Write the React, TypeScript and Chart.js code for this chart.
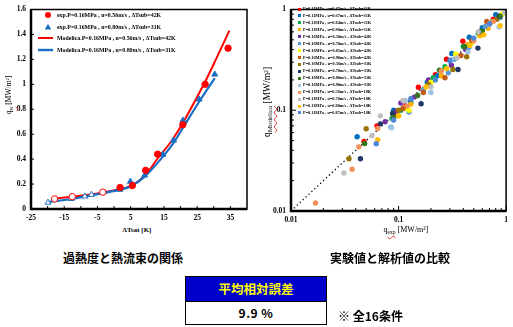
import React, { useEffect, useRef } from "react";
import { Chart, registerables } from "chart.js";
Chart.register(...registerables);

// ---------- Left chart data ----------
const xTicksLeft = [-25, -15, -5, 5, 15, 25, 35];
const yTicksLeft = [0, 0.2, 0.4, 0.6, 0.8, 1, 1.2, 1.4, 1.6];
const xMinorLeft = [-20, -15, -10, -5, 0, 5, 10, 15, 20, 25, 30, 35];

const expRedX = [-17.9, -12.6, -3.4, 1.8, 5.5, 9.5, 13.1, 20.7, 27.4, 34.3];
const expRedY = [0.081, 0.099, 0.135, 0.172, 0.188, 0.31, 0.44, 0.676, 1.0, 1.29];
const expBlueX = [-19.9, -12.9, -8.8, -6.8, 1.8, 4.9, 9.2, 14.7, 17.9, 20.7, 25.6, 30.3];
const expBlueY = [0.052, 0.082, 0.102, 0.115, 0.156, 0.22, 0.27, 0.437, 0.55, 0.71, 0.88, 1.08];
const modRedX = [-17.9, -12.6, -7, -3.4, 1.8, 5.5, 9.5, 13.1, 17, 20.7, 24, 27.4, 31, 34.7];
const modRedY = [0.082, 0.099, 0.117, 0.133, 0.16, 0.19, 0.275, 0.405, 0.535, 0.69, 0.85, 1.02, 1.22, 1.43];
const modBlueX = [-19.9, -12.9, -8.8, -6.8, 1.8, 4.9, 9.2, 14.7, 17.9, 20.7, 25.6, 30.3];
const modBlueY = [0.056, 0.08, 0.1, 0.11, 0.155, 0.18, 0.26, 0.42, 0.53, 0.65, 0.86, 1.05];

const leftLabels = [
  "exp.P=0.16MPa , u=0.56m/s , \u0394Tsub=42K",
  "exp.P=0.16MPa , u=0.80m/s , \u0394Tsub=31K",
  "Modelica.P=0.16MPa , u=0.56m/s , \u0394Tsub=42K",
  "Modelica.P=0.16MPa , u=0.80m/s , \u0394Tsub=31K",
];
const RED = "#FF0000";
const BLUE = "#1A6FC4";

// ---------- Right chart data ----------
const logTicks = [0.01, 0.1, 1];
const s01 = [[0.0477, 0.049], [0.063, 0.07], [0.09, 0.091], [0.117, 0.11], [0.153, 0.169], [0.22, 0.225], [0.279, 0.321], [0.396, 0.485], [0.57, 0.6], [0.76, 0.8]];
const s02 = [[0.0412, 0.0546], [0.09, 0.1], [0.13, 0.12], [0.185, 0.19], [0.23, 0.22], [0.312, 0.366], [0.454, 0.53], [0.6, 0.66], [0.8, 0.89], [0.88, 0.84]];
const s03 = [[0.087, 0.083], [0.105, 0.1], [0.15, 0.14], [0.21, 0.21], [0.27, 0.27], [0.4, 0.43], [0.55, 0.58], [0.75, 0.76]];
const s04 = [[0.1, 0.088], [0.13, 0.115], [0.19, 0.18], [0.25, 0.22], [0.44, 0.45], [0.57, 0.55], [0.68, 0.65], [0.92, 0.9]];
const s05 = [[0.075, 0.077], [0.095, 0.098], [0.105, 0.118], [0.14, 0.135], [0.19, 0.2], [0.31, 0.28], [0.42, 0.4], [0.57, 0.6]];
const s06 = [[0.085, 0.068], [0.125, 0.096], [0.17, 0.16], [0.29, 0.235], [0.33, 0.32], [0.45, 0.42], [0.64, 0.68], [0.84, 0.83]];
const s07 = [[0.115, 0.105], [0.125, 0.1], [0.2, 0.19], [0.34, 0.36], [0.48, 0.47], [0.93, 0.91]];
const s08 = [[0.11, 0.104], [0.17, 0.15], [0.27, 0.21], [0.38, 0.35], [0.48, 0.49], [0.66, 0.76]];
const s09 = [[0.0346, 0.033], [0.05, 0.0656], [0.1, 0.1], [0.19, 0.18], [0.32, 0.254], [0.43, 0.34], [0.82, 0.8]];
const s10 = [[0.0442, 0.033], [0.0677, 0.0733], [0.088, 0.093], [0.162, 0.116], [0.357, 0.254], [0.547, 0.414], [0.86, 0.86]];
const s11 = [[0.0484, 0.0467], [0.09, 0.085], [0.15, 0.14], [0.24, 0.25], [0.41, 0.43], [0.6, 0.61], [0.88, 0.86]];
const s12 = [[0.086, 0.067], [0.115, 0.125], [0.2, 0.15], [0.31, 0.32], [0.44, 0.38], [0.7, 0.71], [0.86, 0.67]];
const s13 = [[0.0169, 0.012], [0.037, 0.026], [0.0427, 0.0433], [0.064, 0.066], [0.12, 0.11], [0.25, 0.245], [0.5, 0.49], [0.76, 0.76]];
const s14 = [[0.031, 0.0238], [0.0565, 0.0558], [0.0677, 0.088], [0.11, 0.125], [0.2, 0.17], [0.35, 0.33], [0.55, 0.6], [0.97, 0.93]];
const s15 = [[0.064, 0.051], [0.1, 0.088], [0.18, 0.17], [0.28, 0.26], [0.46, 0.44], [0.62, 0.56], [0.88, 0.69]];
const s16 = [[0.062, 0.0465], [0.09, 0.08], [0.13, 0.13], [0.22, 0.2], [0.3, 0.31], [0.5, 0.52], [0.7, 0.72]];
const rightData = [s01, s02, s03, s04, s05, s06, s07, s08, s09, s10, s11, s12, s13, s14, s15, s16];
const rightLabels = [
  "P=0.11MPa , u=0.47m/s , \u0394Tsub=31K",
  "P=0.11MPa , u=0.67m/s , \u0394Tsub=31K",
  "P=0.11MPa , u=0.84m/s , \u0394Tsub=31K",
  "P=0.11MPa , u=0.90m/s , \u0394Tsub=31K",
  "P=0.16MPa , u=0.50m/s , \u0394Tsub=42K",
  "P=0.16MPa , u=0.70m/s , \u0394Tsub=42K",
  "P=0.16MPa , u=0.85m/s , \u0394Tsub=42K",
  "P=0.16MPa , u=0.90m/s , \u0394Tsub=42K",
  "P=0.16MPa , u=0.56m/s , \u0394Tsub=31K",
  "P=0.16MPa , u=0.70m/s , \u0394Tsub=31K",
  "P=0.16MPa , u=0.80m/s , \u0394Tsub=31K",
  "P=0.16MPa , u=0.90m/s , \u0394Tsub=31K",
  "P=0.11MPa , u=0.56m/s , \u0394Tsub=18K",
  "P=0.11MPa , u=0.70m/s , \u0394Tsub=18K",
  "P=0.11MPa , u=0.80m/s , \u0394Tsub=18K",
  "P=0.11MPa , u=0.87m/s , \u0394Tsub=18K",
];
const rightColors = [
  "#FF0000", "#0070C0", "#00B050", "#FFB000", "#7030A0", "#5B9BD5", "#FFFF00", "#C55A11",
  "#997300", "#1F3864", "#38761D", "#9DC3E6", "#F4915A", "#BFBFBF", "#FFC000", "#4F86D6",
];
const logMinor = [0.01, 0.1].flatMap((d) => [2, 3, 4, 5, 6, 7, 8, 9].map((k) => d * k));

const tickFont = { family: "'Liberation Serif', serif", size: 7.5, weight: "bold" as const };

function framePlugin(xMarks: number[], yMarks: number[], xMajor: number[], yMajor: number[]) {
  return {
    id: "frame",
    afterDraw(chart: any) {
      const { ctx, chartArea: a, scales } = chart;
      ctx.save();
      ctx.strokeStyle = "#000";
      ctx.lineWidth = 1;
      ctx.beginPath();
      for (const v of xMarks) {
        const px = scales.x.getPixelForValue(v);
        ctx.moveTo(px, a.bottom);
        ctx.lineTo(px, a.bottom - 3);
      }
      for (const v of xMajor) {
        const px = scales.x.getPixelForValue(v);
        ctx.moveTo(px, a.bottom);
        ctx.lineTo(px, a.bottom - 5);
      }
      for (const v of yMarks) {
        const py = scales.y.getPixelForValue(v);
        ctx.moveTo(a.left, py);
        ctx.lineTo(a.left + 3, py);
      }
      for (const v of yMajor) {
        const py = scales.y.getPixelForValue(v);
        ctx.moveTo(a.left, py);
        ctx.lineTo(a.left + 5, py);
      }
      ctx.stroke();
      ctx.lineWidth = 1.5;
      ctx.strokeRect(a.left, a.top, a.right - a.left, a.bottom - a.top);
      ctx.lineWidth = 2.5;
      ctx.beginPath();
      ctx.moveTo(a.left, a.top);
      ctx.lineTo(a.left, a.bottom);
      ctx.lineTo(a.right, a.bottom);
      ctx.stroke();
      ctx.restore();
    },
  };
}

function LeftChart() {
  const ref = useRef<HTMLCanvasElement>(null);
  useEffect(() => {
    const pts = (xs: number[], ys: number[]) => xs.map((x, i) => ({ x, y: ys[i] }));
    const chart = new Chart(ref.current!, {
      type: "scatter",
      data: {
        datasets: [
          {
            label: leftLabels[0],
            data: pts(expRedX, expRedY),
            pointStyle: "circle",
            pointRadius: 3.2,
            pointBorderWidth: 1,
            borderColor: RED,
            backgroundColor: expRedX.map((x) => (x < 0 ? "#FFFFFF" : RED)),
            order: 1,
          } as any,
          {
            label: leftLabels[1],
            data: pts(expBlueX, expBlueY),
            pointStyle: "triangle",
            pointRadius: 3.4,
            pointBorderWidth: 1,
            borderColor: BLUE,
            backgroundColor: expBlueX.map((x) => (x < 0 ? "#FFFFFF" : BLUE)),
            order: 2,
          } as any,
          {
            type: "line",
            label: leftLabels[2],
            data: pts(modRedX, modRedY),
            borderColor: RED,
            borderWidth: 2,
            pointRadius: 0,
            cubicInterpolationMode: "monotone",
            order: 4,
          } as any,
          {
            type: "line",
            label: leftLabels[3],
            data: pts(modBlueX, modBlueY),
            borderColor: BLUE,
            borderWidth: 2.2,
            pointRadius: 0,
            cubicInterpolationMode: "monotone",
            order: 3,
          } as any,
        ],
      },
      options: {
        animation: false,
        responsive: false,
        devicePixelRatio: 1,
        layout: { padding: { top: 4, right: 11, left: 0, bottom: 0 } },
        plugins: { legend: { display: false }, tooltip: { enabled: false } },
        scales: {
          x: {
            type: "linear",
            min: -25,
            max: 40,
            afterBuildTicks: (s: any) => {
              s.ticks = xTicksLeft.map((v) => ({ value: v }));
            },
            afterFit: (s: any) => {
              s.height = 17;
            },
            grid: { display: false, drawTicks: false },
            border: { display: false },
            ticks: { color: "#000", font: tickFont, padding: 5, maxRotation: 0, autoSkip: false },
          },
          y: {
            type: "linear",
            min: 0,
            max: 1.6,
            afterBuildTicks: (s: any) => {
              s.ticks = yTicksLeft.map((v) => ({ value: v }));
            },
            afterFit: (s: any) => {
              s.width = 31;
            },
            grid: { display: false, drawTicks: false },
            border: { display: false },
            ticks: {
              color: "#000",
              font: tickFont,
              padding: 5,
              callback: (v: any) => String(+Number(v).toFixed(1)),
            },
          },
        },
      },
      plugins: [framePlugin(xMinorLeft, yTicksLeft, [], [])],
    } as any);
    return () => chart.destroy();
  }, []);
  return (
    <canvas ref={ref} width={258} height={226} style={{ position: "absolute", left: 0, top: 0, width: 258, height: 226 }} />
  );
}

function RightChart() {
  const ref = useRef<HTMLCanvasElement>(null);
  useEffect(() => {
    const datasets: any[] = rightData.map((d, i) => ({
      label: rightLabels[i],
      data: d.map(([x, y]) => ({ x, y })),
      pointRadius: 2.7,
      pointBorderWidth: 0,
      backgroundColor: rightColors[i],
      borderColor: rightColors[i],
      order: 16 - i,
    }));
    datasets.push({
      type: "line",
      label: "y=x",
      data: [{ x: 0.01, y: 0.01 }, { x: 1, y: 1 }],
      borderColor: "#000",
      borderWidth: 1.3,
      borderDash: [1.3, 2.7],
      pointRadius: 0,
      order: 100,
    });
    const chart = new Chart(ref.current!, {
      type: "scatter",
      data: { datasets },
      options: {
        animation: false,
        responsive: false,
        devicePixelRatio: 1,
        layout: { padding: { top: 3, right: 3, left: 0, bottom: 0 } },
        plugins: { legend: { display: false }, tooltip: { enabled: false } },
        scales: {
          x: {
            type: "logarithmic",
            min: 0.01,
            max: 1,
            afterBuildTicks: (s: any) => {
              s.ticks = logTicks.map((v) => ({ value: v }));
            },
            afterFit: (s: any) => {
              s.height = 15;
            },
            grid: { display: false, drawTicks: false },
            border: { display: false },
            ticks: { color: "#000", font: tickFont, padding: 5, maxRotation: 0, autoSkip: false, callback: (v: any) => String(v) },
          },
          y: {
            type: "logarithmic",
            min: 0.01,
            max: 1,
            afterBuildTicks: (s: any) => {
              s.ticks = logTicks.map((v) => ({ value: v }));
            },
            afterFit: (s: any) => {
              s.width = 33;
            },
            grid: { display: false, drawTicks: false },
            border: { display: false },
            ticks: { color: "#000", font: tickFont, padding: 5, autoSkip: false, callback: (v: any) => String(v) },
          },
        },
      },
      plugins: [framePlugin(logMinor, logMinor, logTicks, logTicks)],
    } as any);
    return () => chart.destroy();
  }, []);
  return (
    <canvas ref={ref} width={255} height={226} style={{ position: "absolute", left: 258, top: 0, width: 255, height: 226 }} />
  );
}

const serif = "'Liberation Serif', 'Times New Roman', serif";
const cjk = "'Noto Sans CJK JP', 'Noto Sans', sans-serif";

function Tiny({ text, size, left, cy, bold = true }: { text: string; size: number; left: number; cy: number; bold?: boolean }) {
  const base = 12;
  const s = size / base;
  return (
    <div
      style={{
        position: "absolute",
        left,
        top: cy - base / 2,
        height: base,
        lineHeight: `${base}px`,
        fontFamily: serif,
        fontSize: base,
        fontWeight: bold ? 700 : 400,
        whiteSpace: "nowrap",
        transform: `scale(${s})`,
        transformOrigin: "left center",
        color: "#000",
      }}
    >
      {text}
    </div>
  );
}

function LeftLegend() {
  const cys = [15.3, 26.5, 38, 50];
  return (
    <>
      {leftLabels.map((lab, i) => (
        <React.Fragment key={i}>
          <svg style={{ position: "absolute", left: 37, top: cys[i] - 5, width: 18, height: 10 }} width={18} height={10}>
            {i === 0 && <circle cx={11} cy={5} r={3} fill={RED} />}
            {i === 1 && <polygon points="11,1.8 14.2,7.6 7.8,7.6" fill={BLUE} />}
            {i === 2 && <line x1={1} y1={5} x2={16} y2={5} stroke={RED} strokeWidth={2} />}
            {i === 3 && <line x1={1} y1={5} x2={16} y2={5} stroke={BLUE} strokeWidth={2.4} />}
          </svg>
          <Tiny text={lab} size={5.9} left={57} cy={cys[i]} />
        </React.Fragment>
      ))}
    </>
  );
}

function RightLegend() {
  return (
    <>
      {rightLabels.map((lab, i) => {
        const cy = 9 + i * 6.93;
        return (
          <React.Fragment key={i}>
            <div style={{ position: "absolute", left: 298, top: cy - 1.5, width: 3, height: 3, background: rightColors[i] }} />
            <Tiny text={lab} size={4.3} left={303} cy={cy} />
          </React.Fragment>
        );
      })}
    </>
  );
}

const ul = { textDecoration: "underline wavy #E03030", textDecorationThickness: "0.5px" } as React.CSSProperties;

export default function App() {
  return (
    <div style={{ position: "fixed", left: 0, top: 0, width: 513, height: 327, background: "#fff", overflow: "hidden" }}>
      <LeftChart />
      <RightChart />
      <LeftLegend />
      <RightLegend />
      {/* axis titles */}
      <div style={{ position: "absolute", left: 137, top: 230, transform: "translate(-50%,-50%)", fontFamily: serif, fontWeight: 700, fontSize: 7, whiteSpace: "nowrap" }}>
        {"\u0394Tsat [K]"}
      </div>
      <div style={{ position: "absolute", left: 406, top: 230, transform: "translate(-50%,-50%)", fontFamily: serif, fontWeight: 400, fontSize: 8, whiteSpace: "nowrap" }}>
        q<sub style={{ fontSize: 5.5, ...ul }}>exp</sub> [MW/m²]
      </div>
      <div style={{ position: "absolute", left: 9, top: 95, transform: "translate(-50%,-50%) rotate(-90deg)", fontFamily: serif, fontWeight: 400, fontSize: 7.5, whiteSpace: "nowrap" }}>
        q<sub style={{ fontSize: 5.5, ...ul }}>w</sub> [MW/m²]
      </div>
      <div style={{ position: "absolute", left: 268, top: 102, transform: "translate(-50%,-50%) rotate(-90deg)", fontFamily: serif, fontWeight: 400, fontSize: 9.5, whiteSpace: "nowrap" }}>
        q<sub style={{ fontSize: 7, ...ul }}>Modelica</sub> [MW/m²]
      </div>
      {/* captions */}
      <div style={{ position: "absolute", left: 123, top: 257, transform: "translate(-50%,-50%)", fontFamily: cjk, fontWeight: 700, fontSize: 12, whiteSpace: "nowrap" }}>
        過熱度と熱流束の関係
      </div>
      <div style={{ position: "absolute", left: 390, top: 257, transform: "translate(-50%,-50%)", fontFamily: cjk, fontWeight: 700, fontSize: 12, whiteSpace: "nowrap" }}>
        実験値と解析値の比較
      </div>
      {/* error box */}
      <div style={{ position: "absolute", left: 185, top: 276, width: 142, height: 49, boxSizing: "border-box", border: "1.5px solid #000", background: "#fff" }}>
        <div style={{ height: 24, background: "#0000CC", borderBottom: "1px solid #000", color: "#FFFF00", fontFamily: cjk, fontWeight: 700, fontSize: 12.5, lineHeight: "24px", textAlign: "center" }}>
          平均相対誤差
        </div>
        <div style={{ height: 21, color: "#000", fontFamily: cjk, fontWeight: 700, fontSize: 12, lineHeight: "21px", textAlign: "center", letterSpacing: 0.5 }}>
          9.9 %
        </div>
      </div>
      <div style={{ position: "absolute", left: 338, top: 315, transform: "translateY(-50%)", fontFamily: cjk, fontWeight: 700, fontSize: 12, whiteSpace: "nowrap" }}>
        ※ 全16条件
      </div>
    </div>
  );
}
